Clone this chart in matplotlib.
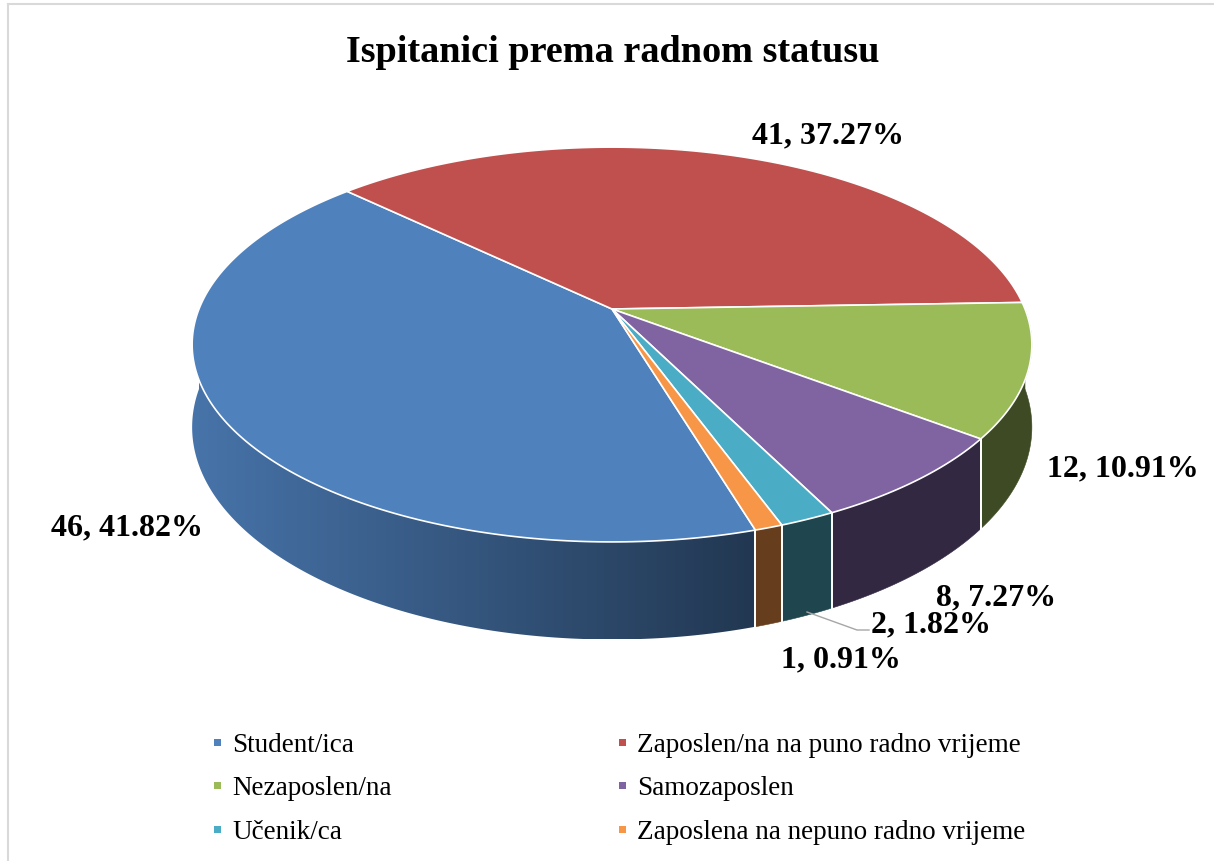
import numpy as np
import matplotlib
matplotlib.use("Agg")
import matplotlib.pyplot as plt
from matplotlib.patches import Polygon, Rectangle
from matplotlib.colors import to_rgb

# data
categories = ["Student/ica", "Zaposlen/na na puno radno vrijeme", "Nezaposlen/na",
              "Samozaposlen", "Učenik/ca", "Zaposlena na nepuno radno vrijeme"]
counts = [46, 41, 12, 8, 2, 1]
top_colors = ["#4F81BD", "#C0504D", "#9BBB59", "#8064A2", "#4BACC6", "#F79646"]
side_colors = ["#2A4060", "#6B2C2A", "#3D4A23", "#332842", "#1F454E", "#673E1D"]

# label anchors (x centre, baseline y) in pixels
label_pos = [(127, 535), (828, 143), (1123, 476), (996, 605), (931, 632), (841, 667)]

# pie geometry (pixel space, simple perspective tilt)
CX, CY = 612, 310
A, B = 413, 191
K = 0.18
T = 80
START = -73.3
FONT = "Liberation Serif"


def proj(theta_deg, r=1.0, drop=0.0):
    t = np.radians(theta_deg)
    u, v = r * np.cos(t), r * np.sin(t)
    w = 1 + K * v
    return CX + A * u / w, CY - B * v / w + drop * T / w


def arc(t0, t1, n=200, drop=0.0):
    th = np.linspace(t0, t1, n)
    x, y = proj(th, drop=drop)
    return np.column_stack([x, y])


def wall_pts(t0, t1):
    return np.vstack([arc(t0, t1), arc(t1, t0, drop=1.0)])


fig = plt.figure(figsize=(12.14, 8.62), dpi=100)
ax = fig.add_axes([0, 0, 1, 1])

total = sum(counts)
cum = np.concatenate([[0], np.cumsum(counts)]) / total * 360
slices = []
for i in range(len(counts)):
    s, e = START - cum[i], START - cum[i + 1]
    if s < -180:
        s, e = s + 360, e + 360
    slices.append((s, e))

# side walls (front half only)
for i, (s, e) in enumerate(slices):
    hi, lo = min(s, 0), max(e, -180)
    if hi <= lo:
        continue
    pts = wall_pts(hi, lo)
    if i == 0:
        # horizontal shading on the big slice wall
        base = np.array(to_rgb(top_colors[0]))
        x0, x1 = pts[:, 0].min(), pts[:, 0].max()
        y0, y1 = pts[:, 1].min(), pts[:, 1].max()
        xs = np.linspace(x0, x1, 400)
        f = 0.89 - (xs - 200) / 555 * 0.46
        grad = np.clip(base[None, :] * f[:, None], 0, 1)[None, :, :]
        clip = Polygon(pts, closed=True, transform=ax.transData)
        im = ax.imshow(grad, extent=[x0, x1, y1, y0], aspect="auto",
                       interpolation="bilinear", zorder=2)
        im.set_clip_path(clip)
    else:
        ax.add_patch(Polygon(pts, closed=True, facecolor=side_colors[i],
                             edgecolor=side_colors[i], linewidth=0.4, zorder=2))

# white edges between walls
for s, e in slices:
    for t in (s, e):
        if -180 < t < 0:
            xa, ya = proj(t)
            xb, yb = proj(t, drop=1.0)
            ax.plot([xa, xb], [ya, yb], color="white", lw=1.3, zorder=3)

# top faces
for i, (s, e) in enumerate(slices):
    pts = np.vstack([[CX, CY], arc(s, e)])
    ax.add_patch(Polygon(pts, closed=True, facecolor=top_colors[i],
                         edgecolor="white", linewidth=1.2, zorder=4))

# data labels
for i, v in enumerate(counts):
    x, y = label_pos[i]
    ax.text(x, y, f"{v}, {v / total * 100:.2f}%", ha="center", va="baseline",
            fontsize=23, fontweight="bold", family=FONT, color="black", zorder=6)
ax.plot([807, 857, 869], [613, 631, 631], color="#a6a6a6", lw=1, zorder=5)

ax.text(613, 62, "Ispitanici prema radnom statusu", ha="center", va="baseline",
        fontsize=27.5, fontweight="bold", family=FONT)

# legend
rows = [752, 795, 839]
cols = [(214, 232), (619, 637)]
for i, name in enumerate(categories):
    mx, tx = cols[i % 2]
    yb = rows[i // 2]
    ax.add_patch(Rectangle((mx, yb - 12), 7, 7, facecolor=top_colors[i],
                           edgecolor="none", zorder=5))
    ax.text(tx, yb, name, ha="left", va="baseline", fontsize=19.5, family=FONT)

# chart frame
ax.plot([8, 8], [862, 5], color="#d9d9d9", lw=1.5, zorder=1)
ax.plot([8, 1214], [5, 5], color="#d9d9d9", lw=1.5, zorder=1)

ax.set_xlim(0, 1214)
ax.set_ylim(862, 0)
ax.axis("off")

fig.savefig("out.png", dpi=100)
